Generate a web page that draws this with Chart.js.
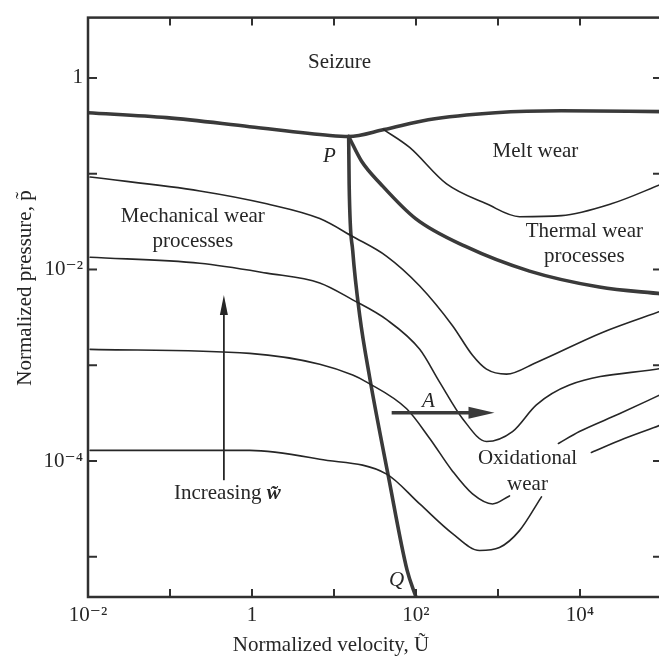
<!DOCTYPE html>
<html>
<head>
<meta charset="utf-8">
<script src="https://cdn.jsdelivr.net/npm/chart.js@4.4.1/dist/chart.umd.min.js"></script>
<style>
  html, body { margin: 0; padding: 0; background: #fff; overflow: hidden; }
  #wrap { width: 668px; height: 660px; }
</style>
</head>
<body>
<div id="wrap"><canvas id="wearMap" width="668" height="660"></canvas></div>
<script>
// Wear-mechanism map: normalized velocity U (x) vs normalized pressure p (y)

// seizure boundary, left edge -> P -> right edge
const seizureU = [0.01, 0.0912, 0.933, 8.91, 15.1, 40.7, 141, 933, 5890, 100000];
const seizureP = [0.434, 0.385, 0.310, 0.251, 0.245, 0.289, 0.367, 0.434, 0.455, 0.445];

// P-Q boundary (mechanical / thermal)
const pqU = [15.1, 15.3, 16.9, 20.6, 27.2, 46, 78, 100];
const pqP = [0.245, 0.0782, 0.0158, 0.00329, 0.00075, 0.0000695, 0.0000072, 0.0000038];

// lower edge of thermal wear region
const thermalU = [15.1, 21.7, 37.1, 98.9, 402, 2420, 17200, 100000];
const thermalP = [0.245, 0.135, 0.0782, 0.034, 0.0174, 0.00962, 0.00656, 0.00556];

// lower edge of melt wear region
const meltU = [40.3, 83.6, 236, 724, 1830, 5930, 24100, 100000];
const meltP = [0.289, 0.188, 0.0782, 0.0485, 0.0356, 0.0365, 0.0485, 0.0782];

// constant wear-rate contours, top to bottom (null = break for a label)
const wearAU = [0.0106, 0.231, 1.51, 6.70, 16.9, 43.9, 111, 279, 489, 724, 1270, 2940, 18750, 100000];
const wearAP = [0.0923, 0.0661, 0.0485, 0.034, 0.0221, 0.01374, 0.00673, 0.00259, 0.00127, 0.00091, 0.000807, 0.00107, 0.0022, 0.00371];

const wearBU = [0.0106, 0.231, 1.51, 6.70, 16.9, 43.9, 111, 194, 370, 724, 1503, 2940, 7430, 100000];
const wearBP = [0.0134, 0.01161, 0.00916, 0.00723, 0.00482, 0.00299, 0.001466, 0.000667, 0.000277, 0.00016, 0.000203, 0.000386, 0.000621, 0.000931];

const wearCU = [0.0106, 0.94, 6.70, 16.9, 25.0, 76.9, 147, 279, 489, 857, 1380, 2600, 5460, 9840, 30200, 100000];
const wearCP = [0.001466, 0.00133, 0.001026, 0.000789, 0.000667, 0.000351, 0.000172, 0.0000783, 0.0000453, 0.0000356, 0.0000432, null, 0.0001524, 0.000203, 0.000311, 0.000501];

const wearDU = [0.0106, 0.94, 6.70, 43.9, 111, 279, 596, 1042, 1828, 3390, 7000, 13770, 34750, 100000];
const wearDP = [0.0001291, 0.0001291, 0.0001042, 0.000073, 0.0000356, 0.00001746, 0.00001164, 0.0000125, 0.00001875, 0.0000422, null, 0.000123, 0.000172, 0.00024];

// axis decades and labelled ticks
const xDecades = [0.1, 1, 10, 100, 1000, 10000];
const yDecades = [1, 0.1, 0.01, 0.001, 0.0001, 0.00001];
const xLabelValues = [0.01, 1, 100, 10000];
const xLabelTexts = ['10\u207B\u00B2', '1', '10\u00B2', '10\u2074'];
const yLabelValues = [1, 0.01, 0.0001];
const yLabelTexts = ['1', '10\u207B\u00B2', '10\u207B\u2074'];

const ink = '#262626';
const heavy = '#3a3a3a';
const serif = '"Liberation Serif", "DejaVu Serif", serif';

function pts(us, ps) {
  return us.map((u, i) => ({ x: u, y: ps[i] }));
}

function curve(us, ps, width, color) {
  return {
    data: pts(us, ps),
    showLine: true,
    borderColor: color,
    borderWidth: width,
    pointRadius: 0,
    cubicInterpolationMode: 'monotone',
    spanGaps: false,
    borderCapStyle: 'round'
  };
}

function pickLabel(value, values, texts) {
  for (let i = 0; i < values.length; i++) {
    if (Math.abs(Math.log10(value) - Math.log10(values[i])) < 1e-6) return texts[i];
  }
  return '';
}

// region labels, placed in data coordinates
const regionLabels = [
  { text: 'Seizure', u: 11.7, p: 1.45 },
  { text: 'Melt wear', u: 2860, p: 0.172 },
  { text: 'Mechanical wear', u: 0.19, p: 0.036 },
  { text: 'processes', u: 0.19, p: 0.0196 },
  { text: 'Thermal wear', u: 11300, p: 0.025 },
  { text: 'processes', u: 11300, p: 0.0138 },
  { text: 'Oxidational', u: 2290, p: 0.000107 },
  { text: 'wear', u: 2290, p: 0.0000574 }
];
const pointLabels = [
  { text: 'P', u: 8.8, p: 0.152 },
  { text: 'Q', u: 58, p: 0.0000057 },
  { text: 'A', u: 142, p: 0.00042 }
];

const mapDecor = {
  id: 'mapDecor',
  afterDatasetsDraw(chart) {
    const { ctx, chartArea: a, scales: { x, y } } = chart;
    ctx.save();

    const seg = (x1, y1, x2, y2) => {
      ctx.beginPath(); ctx.moveTo(x1, y1); ctx.lineTo(x2, y2); ctx.stroke();
    };

    // frame with inward ticks on all four sides
    ctx.strokeStyle = '#303030';
    ctx.lineWidth = 2.5;
    ctx.strokeRect(a.left, a.top, a.right - a.left, a.bottom - a.top);
    ctx.lineWidth = 2;
    xDecades.forEach(v => {
      const px = x.getPixelForValue(v);
      seg(px, a.bottom, px, a.bottom - 8);
      seg(px, a.top, px, a.top + 8);
    });
    yDecades.forEach(v => {
      const py = y.getPixelForValue(v);
      seg(a.left, py, a.left + 9, py);
      seg(a.right, py, a.right - 9, py);
    });

    // arrow A
    const ax1 = x.getPixelForValue(50.5), ax2 = x.getPixelForValue(906), ay = y.getPixelForValue(0.000319);
    ctx.strokeStyle = heavy; ctx.fillStyle = heavy; ctx.lineWidth = 3.5;
    seg(ax1, ay, ax2 - 20, ay);
    ctx.beginPath();
    ctx.moveTo(ax2, ay); ctx.lineTo(ax2 - 26, ay - 6); ctx.lineTo(ax2 - 26, ay + 6); ctx.closePath(); ctx.fill();

    // arrow for increasing wear rate
    const wx = x.getPixelForValue(0.454), wy1 = y.getPixelForValue(0.000063), wy2 = y.getPixelForValue(0.00542);
    ctx.strokeStyle = ink; ctx.fillStyle = ink; ctx.lineWidth = 1.8;
    seg(wx, wy1, wx, wy2 + 14);
    ctx.beginPath();
    ctx.moveTo(wx, wy2); ctx.lineTo(wx - 4, wy2 + 20); ctx.lineTo(wx + 4, wy2 + 20); ctx.closePath(); ctx.fill();

    // text
    ctx.fillStyle = ink;
    ctx.textAlign = 'center';
    ctx.textBaseline = 'middle';
    ctx.font = '21px ' + serif;
    regionLabels.forEach(l => ctx.fillText(l.text, x.getPixelForValue(l.u), y.getPixelForValue(l.p)));
    ctx.font = 'italic 21px ' + serif;
    pointLabels.forEach(l => ctx.fillText(l.text, x.getPixelForValue(l.u), y.getPixelForValue(l.p)));

    // "Increasing w~" with the w in bold italic
    ctx.font = '21px ' + serif;
    const part1 = 'Increasing ';
    const w1 = ctx.measureText(part1).width;
    ctx.font = 'bold italic 21px ' + serif;
    const part2 = 'w\u0303';
    const w2 = ctx.measureText(part2).width;
    const cx = x.getPixelForValue(0.5), cy = y.getPixelForValue(0.0000453);
    ctx.textAlign = 'left';
    ctx.font = '21px ' + serif;
    ctx.fillText(part1, cx - (w1 + w2) / 2, cy);
    ctx.font = 'bold italic 21px ' + serif;
    ctx.fillText(part2, cx - (w1 + w2) / 2 + w1, cy);

    // axis titles
    ctx.textAlign = 'center';
    ctx.font = '21px ' + serif;
    ctx.fillText('Normalized velocity, \u0168', 331, 645);
    ctx.translate(25, 288);
    ctx.rotate(-Math.PI / 2);
    ctx.fillText('Normalized pressure, p\u0303', 0, 0);

    ctx.restore();
  }
};

new Chart(document.getElementById('wearMap').getContext('2d'), {
  type: 'scatter',
  data: {
    datasets: [
      curve(wearAU, wearAP, 1.6, ink),
      curve(wearBU, wearBP, 1.6, ink),
      curve(wearCU, wearCP, 1.6, ink),
      curve(wearDU, wearDP, 1.6, ink),
      curve(meltU, meltP, 1.6, ink),
      curve(seizureU, seizureP, 3.6, heavy),
      curve(thermalU, thermalP, 3.6, heavy),
      curve(pqU, pqP, 3.6, heavy)
    ]
  },
  options: {
    responsive: false,
    animation: false,
    layout: { padding: { top: 12, right: 5, left: 0, bottom: 0 } },
    plugins: { legend: { display: false }, tooltip: { enabled: false } },
    scales: {
      x: {
        type: 'logarithmic',
        min: 0.01,
        max: 100000,
        grid: { display: false, drawTicks: false },
        border: { display: false },
        ticks: {
          autoSkip: false,
          maxRotation: 0,
          padding: 6,
          color: ink,
          font: { family: serif, size: 21 },
          callback: v => pickLabel(v, xLabelValues, xLabelTexts)
        },
        afterFit(s) { s.height = 63; }
      },
      y: {
        type: 'logarithmic',
        min: 0.0000038,
        max: 4.27,
        grid: { display: false, drawTicks: false },
        border: { display: false },
        ticks: {
          autoSkip: false,
          padding: 5,
          color: ink,
          font: { family: serif, size: 21 },
          callback: v => pickLabel(v, yLabelValues, yLabelTexts)
        },
        afterFit(s) { s.width = 88; }
      }
    }
  },
  plugins: [mapDecor]
});
</script>
</body>
</html>
